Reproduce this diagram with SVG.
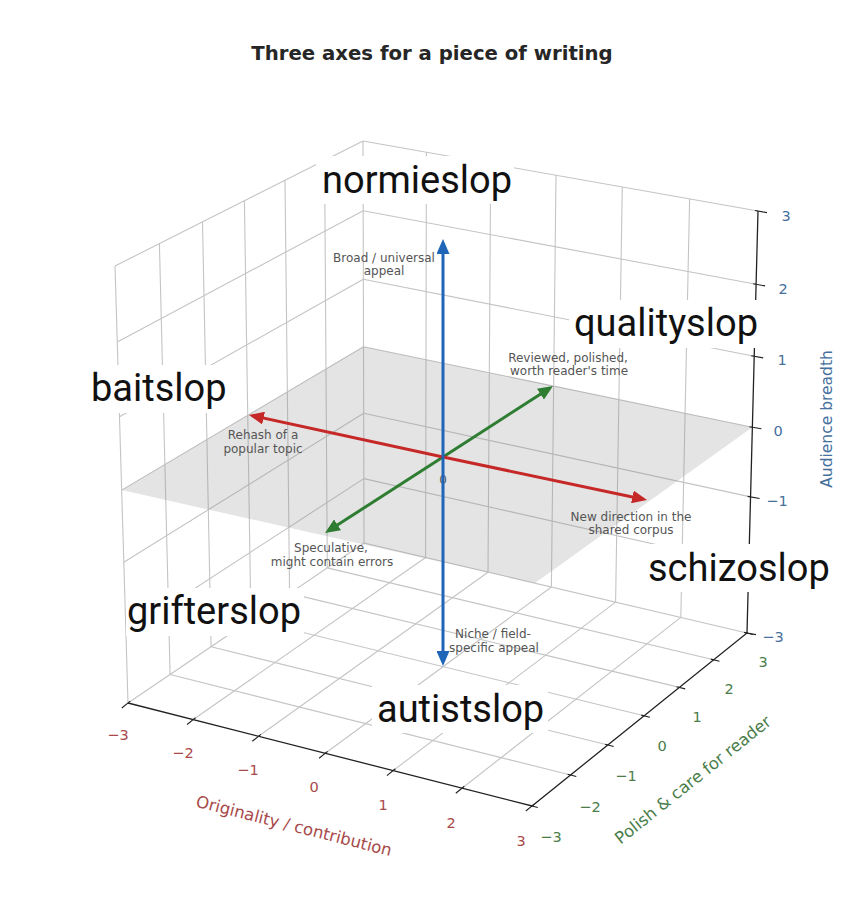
<svg xmlns="http://www.w3.org/2000/svg" width="864" height="900" viewBox="0 0 864 900">
<style>
.grid{stroke:#c4c4c4;stroke-width:1.1;fill:none}
.axis{stroke:#222;stroke-width:1.3;fill:none}
.tick{stroke:#222;stroke-width:1.1}
.tl{font-family:"DejaVu Sans",sans-serif;font-size:14.5px;text-anchor:middle}
.tx{fill:#a84a4a}.ty{fill:#4a7d4a}.tz{fill:#46709c}
.al{font-family:"DejaVu Sans",sans-serif;font-size:16.5px;text-anchor:middle;dominant-baseline:central}
.ann{font-family:"DejaVu Sans",sans-serif;font-size:12px;fill:#555;text-anchor:middle}
.big{font-family:Roboto,"Noto Sans",sans-serif;font-size:38px;fill:#111}
.box{fill:#fff}
.title{font-family:"DejaVu Sans",sans-serif;font-size:19.7px;font-weight:bold;fill:#262626;text-anchor:middle}
</style>
<defs>
<marker id="hr" viewBox="0 0 10 10" refX="7.3" refY="5" markerWidth="15" markerHeight="13" markerUnits="userSpaceOnUse" orient="auto" preserveAspectRatio="none"><path d="M0,0 L10,5 L0,10 z" fill="#c62828"/></marker>
<marker id="hg" viewBox="0 0 10 10" refX="7.3" refY="5" markerWidth="15" markerHeight="13" markerUnits="userSpaceOnUse" orient="auto" preserveAspectRatio="none"><path d="M0,0 L10,5 L0,10 z" fill="#2e7d32"/></marker>
<marker id="hb" viewBox="0 0 10 10" refX="7.3" refY="5" markerWidth="15" markerHeight="13" markerUnits="userSpaceOnUse" orient="auto" preserveAspectRatio="none"><path d="M0,0 L10,5 L0,10 z" fill="#1f65b8"/></marker>
</defs>
<rect width="864" height="900" fill="#fff"/>
<text class="title" x="432" y="60">Three axes for a piece of writing</text>

<g id="grid">
<path class="grid" d="M128,703L364,543M193.3,719.5L425.6,557.5M258.5,736.3L488,572.2M325.3,753.3L551.4,587M393.1,770.6L615.6,602.1M462,788.2L680.8,617.4"/>
<path class="grid" d="M170.1,674.5L570.5,775M211.1,646.7L607.9,745M250.9,619.7L644.1,715.8M289.6,593.4L679.4,687.4M327.3,567.9L713.7,659.8M364,543L747,633"/>
<path class="grid" d="M364,543L363,141M425.6,557.5L426.4,152.2M488,572.2L490.7,163.6M551.4,587L556,175.2M615.6,602.1L622.3,187M680.8,617.4L689.6,198.9"/>
<path class="grid" d="M363.8,478.6L748.8,565.5M363.7,413.2L750.6,496.9M363.5,346.7L752.4,427.2M363.3,279.2L754.2,356.3M363.2,210.7L756.1,284.3M363,141L758,211"/>
<path class="grid" d="M128,703L115,266M170.1,674.5L159.4,243.6M211.1,646.7L202.5,221.9M250.9,619.7L244.4,200.8M289.6,593.4L285,180.3M327.3,567.9L324.6,160.4"/>
<path class="grid" d="M125.9,633.2L363.8,478.6M123.8,562.2L363.7,413.2M121.7,490.1L363.5,346.7M119.5,416.7L363.3,279.2M117.3,342L363.2,210.7M115,266L363,141"/>
</g>

<g id="plane">
<polygon points="121.7,490.1 535,583 752.4,427.2 363.5,346.7" fill="#8a8a8a" fill-opacity="0.23"/>
</g>

<g id="axes">
<path class="axis" d="M128,703L532,806L747,633L758,211"/>
<path class="tick" d="M130.3,701.1L121.8,708M195.6,717.6L187.1,724.5M260.8,734.4L252.3,741.3M327.6,751.4L319.1,758.3M395.4,768.7L386.9,775.6M464.3,786.3L455.8,793.2M534.3,804.1L525.8,811"/>
<path class="tick" d="M529.1,805.3L537.8,807.5M567.6,774.3L576.3,776.5M605,744.3L613.7,746.5M641.2,715.1L649.9,717.3M676.5,686.7L685.2,688.9M710.8,659.1L719.5,661.3M744.1,632.3L752.8,634.5"/>
<path class="tick" d="M744,632.5L756,634.6M745.8,565L757.8,567.1M747.6,496.4L759.6,498.5M749.4,426.7L761.4,428.8M751.2,355.8L763.2,357.9M753.1,283.8L765.1,285.9M755,210.5L767,212.6"/>
<g class="tl tx">
<text x="118" y="740">−3</text><text x="183" y="758">−2</text><text x="248" y="775">−1</text><text x="314" y="792">0</text><text x="383" y="810">1</text><text x="451" y="828">2</text><text x="521" y="846">3</text>
</g>
<g class="tl ty">
<text x="551" y="842">−3</text><text x="590" y="812">−2</text><text x="626" y="781">−1</text><text x="662" y="751">0</text><text x="697" y="722">1</text><text x="729" y="694">2</text><text x="763" y="667">3</text>
</g>
<g class="tl tz">
<text x="786" y="221">3</text><text x="783" y="294">2</text><text x="782" y="365">1</text><text x="778" y="436">0</text><text x="777" y="506">−1</text><text x="773" y="642">−3</text>
</g>
<text class="al tx" transform="translate(294,826) rotate(14.3)">Originality / contribution</text>
<text class="al ty" transform="translate(693,780) rotate(-38.6)">Polish &amp; care for reader</text>
<text class="al tz" style="font-size:15.5px" transform="translate(827,419) rotate(-90)">Audience breadth</text>
</g>

<g id="annotations">
<text class="ann" x="384" y="262">Broad / universal</text>
<text class="ann" x="384" y="275">appeal</text>
<text class="ann" x="568" y="362">Reviewed, polished,</text>
<text class="ann" x="569" y="375">worth reader's time</text>
<text class="ann" x="263" y="439">Rehash of a</text>
<text class="ann" x="263" y="453">popular topic</text>
<text class="ann" x="331" y="552">Speculative,</text>
<text class="ann" x="332" y="566">might contain errors</text>
<text class="ann" x="631" y="521">New direction in the</text>
<text class="ann" x="631" y="534">shared corpus</text>
<text class="ann" x="493" y="638">Niche / field-</text>
<text class="ann" x="494" y="652">specific appeal</text>
<text class="ann" x="443" y="484">0</text>
</g>

<g id="connectors" fill="none" stroke-width="3" stroke-linecap="butt">
<path d="M443,457L328.4,530.8" stroke="#2e7d32" marker-end="url(#hg)"/>
<path d="M443,457L549.6,388.2" stroke="#2e7d32" marker-end="url(#hg)"/>
<path d="M443,457L252.9,415.8" stroke="#c62828" marker-end="url(#hr)"/>
<path d="M443,457L643.1,499.2" stroke="#c62828" marker-end="url(#hr)"/>
<path d="M443,457L443,243" stroke="#1f65b8" marker-end="url(#hb)"/>
<path d="M443,457L443,662" stroke="#1f65b8" marker-end="url(#hb)"/>
</g>

<g id="normieslop"><rect class="box" x="316" y="156" width="198" height="48"/><text class="big" x="322" y="193">normieslop</text></g>
<g id="qualityslop"><rect class="box" x="569" y="300" width="193" height="48"/><text class="big" x="574" y="336">qualityslop</text></g>
<g id="baitslop"><rect class="box" x="86" y="365" width="145" height="48"/><text class="big" x="91" y="401">baitslop</text></g>
<g id="grifterslop"><rect class="box" x="126" y="588" width="178" height="48"/><text class="big" x="127" y="624">grifterslop</text></g>
<g id="schizoslop"><rect class="box" x="643" y="544" width="191" height="48"/><text class="big" x="648" y="581">schizoslop</text></g>
<g id="autistslop"><rect class="box" x="372" y="685" width="176" height="48"/><text class="big" x="377" y="722">autistslop</text></g>
</svg>
